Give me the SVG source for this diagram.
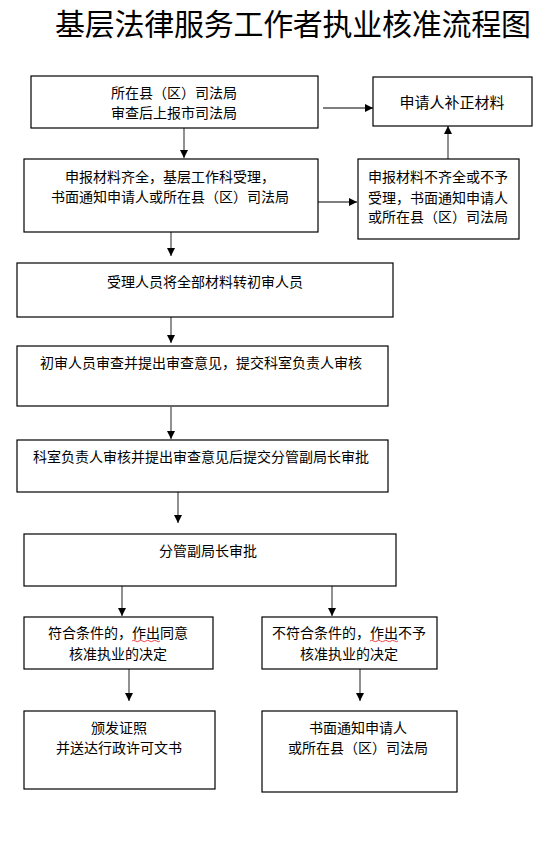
<svg xmlns="http://www.w3.org/2000/svg" width="546" height="855" viewBox="0 0 546 855">
<style>
.box{fill:#fff;stroke:#000;stroke-width:1.2}
.t{font-family:"Noto Sans CJK SC","Noto Sans",sans-serif;font-size:14px;fill:#000;text-anchor:middle}
.title{font-family:"Noto Sans CJK SC","Noto Sans",sans-serif;font-size:30px;fill:#000}
.c{stroke:#555;stroke-width:1.3;fill:none;marker-end:url(#ah)}
.sq{stroke:#e33;stroke-width:0.9;fill:none}
</style>
<defs>
<marker id="ah" markerUnits="userSpaceOnUse" markerWidth="9" markerHeight="9" refX="8" refY="4.5" orient="auto">
<path d="M0,0.5 L8,4.5 L0,8.5 z" fill="#000"/>
</marker>
</defs>
<rect width="546" height="855" fill="#fff"/>
<text class="title" x="55" y="35" textLength="476" lengthAdjust="spacing">基层法律服务工作者执业核准流程图</text>
<g id="connectors">
<line class="c" x1="184" y1="128" x2="184" y2="158"/>
<line class="c" x1="323" y1="108" x2="373" y2="108"/>
<line class="c" x1="317" y1="202" x2="357" y2="202"/>
<line class="c" x1="448" y1="159" x2="448" y2="126"/>
<line class="c" x1="171" y1="232" x2="171" y2="256"/>
<line class="c" x1="171" y1="317" x2="171" y2="343"/>
<line class="c" x1="171" y1="407" x2="171" y2="439"/>
<line class="c" x1="178" y1="492" x2="178" y2="523"/>
<line class="c" x1="122" y1="586" x2="122" y2="616"/>
<line class="c" x1="332" y1="586" x2="332" y2="616"/>
<line class="c" x1="129" y1="669" x2="129" y2="701"/>
<line class="c" x1="360" y1="669" x2="360" y2="701"/>
</g>
<g id="n1">
<rect class="box" x="31" y="76" width="287" height="52"/>
<text class="t" x="174" y="98">所在县（区）司法局</text>
<text class="t" x="174" y="118">审查后上报市司法局</text>
</g>
<g id="n2">
<rect class="box" x="373" y="77" width="159" height="49"/>
<text class="t" x="452" y="108" style="font-size:15px">申请人补正材料</text>
</g>
<g id="n3">
<rect class="box" x="24" y="159" width="294" height="73"/>
<text class="t" x="170" y="182">申报材料齐全，基层工作科受理，</text>
<text class="t" x="170" y="202">书面通知申请人或所在县（区）司法局</text>
</g>
<g id="n4">
<rect class="box" x="358" y="159" width="161" height="80"/>
<text class="t" x="438" y="182">申报材料不齐全或不予</text>
<text class="t" x="438" y="203">受理，书面通知申请人</text>
<text class="t" x="438" y="222">或所在县（区）司法局</text>
</g>
<g id="n5">
<rect class="box" x="17" y="263" width="376" height="54"/>
<text class="t" x="205" y="287">受理人员将全部材料转初审人员</text>
</g>
<g id="n6">
<rect class="box" x="17" y="346" width="371" height="60"/>
<text class="t" x="201" y="368">初审人员审查并提出审查意见，提交科室负责人审核</text>
</g>
<g id="n7">
<rect class="box" x="17" y="440" width="371" height="52"/>
<text class="t" x="201" y="462">科室负责人审核并提出审查意见后提交分管副局长审批</text>
</g>
<g id="n8">
<rect class="box" x="24" y="534" width="372" height="52"/>
<text class="t" x="208" y="556">分管副局长审批</text>
</g>
<g id="n9">
<rect class="box" x="24" y="617" width="189" height="52"/>
<text class="t" x="118" y="638">符合条件的，作出同意</text>
<text class="t" x="118" y="659">核准执业的决定</text>
<path class="sq" d="M132,641 q1.75,-1.5 3.5,0 t3.5,0 t3.5,0 t3.5,0 t3.5,0 t3.5,0 t3.5,0 t3.5,0"/>
</g>
<g id="n10">
<rect class="box" x="262" y="617" width="175" height="52"/>
<text class="t" x="349" y="638">不符合条件的，作出不予</text>
<text class="t" x="349" y="659">核准执业的决定</text>
<path class="sq" d="M370,641 q1.75,-1.5 3.5,0 t3.5,0 t3.5,0 t3.5,0 t3.5,0 t3.5,0 t3.5,0 t3.5,0"/>
</g>
<g id="n11">
<rect class="box" x="24" y="711" width="191" height="78"/>
<text class="t" x="119" y="733">颁发证照</text>
<text class="t" x="119" y="753">并送达行政许可文书</text>
</g>
<g id="n12">
<rect class="box" x="262" y="711" width="195" height="81"/>
<text class="t" x="358" y="733">书面通知申请人</text>
<text class="t" x="358" y="753">或所在县（区）司法局</text>
</g>
</svg>
